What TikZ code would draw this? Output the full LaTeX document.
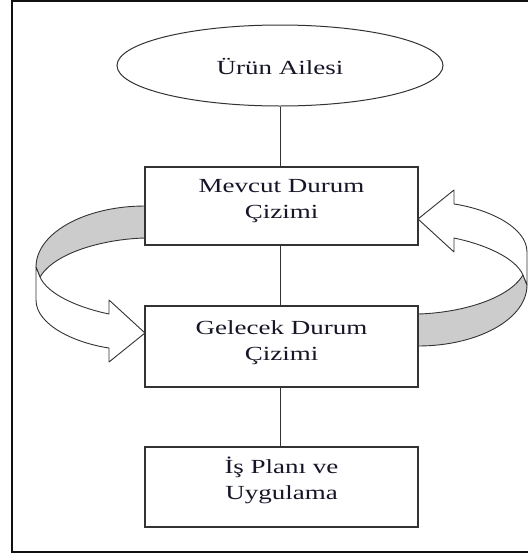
\documentclass[tikz,border=0pt]{standalone}
\usepackage{fontspec}
\setmainfont{Liberation Serif}[FakeStretch=1.35]
\usetikzlibrary{shapes.geometric}
\definecolor{ink}{HTML}{161628}
\definecolor{edge}{HTML}{333333}
\definecolor{frameline}{HTML}{111111}
\definecolor{bandgrey}{HTML}{CCCCCC}

% one curled 3D arrow: grey back band leaving a box, white front band ending in a head
\newcommand{\turnarrow}{%
  \fill[bandgrey] (145,206) .. controls (85,206) and (36,233) .. (36,267)
    -- (40,277) .. controls (55,252) and (105,239) .. (145,238) -- cycle;
  \draw[band] (145,206) .. controls (85,206) and (36,233) .. (36,267)
    -- (40,277) .. controls (55,252) and (105,239) .. (145,238);
  \filldraw[band,fill=white] (36,267) -- (36,300)
    .. controls (36,325) and (75,343) .. (109,348)
    -- (109,362) -- (145,333) -- (109,300) -- (109,314)
    .. controls (80,308) and (48,295) .. (40,277) -- cycle;
}

\begin{document}
\begin{tikzpicture}[x=1pt,y=-1pt,
  stepbox/.style={draw=edge,line width=1.2pt,fill=white,minimum width=273pt,inner sep=0pt},
  boxtext/.style={text=ink,font=\fontsize{20}{26}\selectfont,align=center,inner sep=0pt},
  linkline/.style={draw=edge,line width=1pt},
  band/.style={draw=edge,line width=0.9pt,line join=round}]
\useasboundingbox (0,0) rectangle (528,555);

% open frame (right side cut)
\draw[frameline,line width=1.5pt] (528,0.75) -- (12,0.75);
\draw[frameline,line width=2.5pt] (12,0) -- (12,552) -- (528,552);

% feedback arrows between the two drawing steps
\turnarrow
\begin{scope}[rotate around={180:(281.5,276)}]
  \turnarrow
\end{scope}

% nodes
\node[draw=edge,line width=1pt,fill=white,ellipse,minimum width=326pt,minimum height=81pt,inner sep=0pt] (fam) at (280,65.5) {};
\node[boxtext] (famt) at ([yshift=-1pt]fam.center) {Ürün Ailesi};

\node[stepbox,minimum height=78pt] (cur) at (281.5,206) {};
\node[boxtext] (curt) at ([yshift=5pt]cur.center) {Mevcut Durum\\Çizimi};

\node[stepbox,minimum height=81pt] (fut) at (281.5,346.5) {};
\node[boxtext] (futt) at ([yshift=3.5pt]fut.center) {Gelecek Durum\\Çizimi};

\node[stepbox,minimum height=80pt] (plan) at (281.5,487) {};
\node[boxtext] (plant) at ([yshift=7pt]plan.center) {İş Planı ve\\Uygulama};

% connectors
\draw[linkline] (fam.south) -- (fam.south |- cur.north);
\draw[linkline] (cur.south -| fam.south) -- (fut.north -| fam.south);
\draw[linkline] (fut.south -| fam.south) -- (plan.north -| fam.south);
\end{tikzpicture}
\end{document}
